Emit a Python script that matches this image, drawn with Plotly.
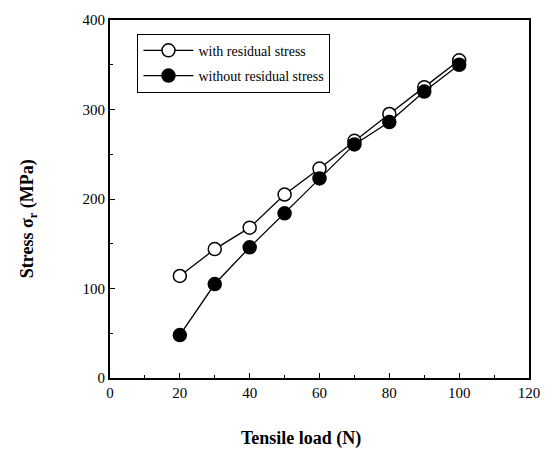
import plotly.graph_objects as go

load = [20, 30, 40, 50, 60, 70, 80, 90, 100]
with_residual = [114, 144, 168, 205, 234, 265, 295, 325, 355]
without_residual = [48, 105, 146, 184, 223, 261, 286, 320, 350]
x_ticks = [0, 20, 40, 60, 80, 100, 120]
y_ticks = [0, 100, 200, 300, 400]

W, H = 552, 456
L, R, T, B = 110, 15, 14, 78
font = "Liberation Serif"

fig = go.Figure()
fig.add_trace(go.Scatter(
    x=load, y=with_residual, mode="lines+markers", name="with residual stress",
    legendgroup="a",
    line=dict(color="black", width=1.3),
    marker=dict(symbol="circle", size=13, color="white", line=dict(color="black", width=1.5)),
))
fig.add_trace(go.Scatter(
    x=load, y=without_residual, mode="lines+markers", name="without residual stress",
    legendgroup="b",
    line=dict(color="black", width=1.3),
    marker=dict(symbol="circle", size=13, color="black", line=dict(color="black", width=1.5)),
))

axis_common = dict(
    showgrid=False, zeroline=False, showline=True, mirror=True,
    linecolor="black", linewidth=2, ticks="inside", ticklen=5, tickcolor="black",
    tickfont=dict(family=font, size=15, color="black"),
)
fig.update_xaxes(range=[0, 120], tickvals=x_ticks, ticktext=[str(v) for v in x_ticks],
                 minor=dict(dtick=10, ticks="inside", ticklen=3, tickcolor="black"),
                 **axis_common)
fig.update_yaxes(range=[0, 400], tickvals=y_ticks, ticktext=[str(v) for v in y_ticks],
                 minor=dict(dtick=50, ticks="inside", ticklen=3, tickcolor="black"),
                 **axis_common)

pw = W - L - R
ph = H - T - B
fig.add_annotation(
    text="<b>Tensile load (N)</b>", xref="paper", yref="paper",
    x=(305 - L) / pw, y=-(440 - (H - B)) / ph, showarrow=False,
    font=dict(family=font, size=18, color="black"), xanchor="center", yanchor="middle",
)
fig.add_annotation(
    text="<b>Stress σ<sub>r</sub> (MPa)</b>", xref="paper", yref="paper",
    x=-(L - 27) / pw, y=((H - B) - 216) / ph, showarrow=False, textangle=-90,
    font=dict(family=font, size=18, color="black"), xanchor="center", yanchor="middle",
)

fig.update_layout(
    width=W, height=H, margin=dict(l=L, r=R, t=T, b=B),
    paper_bgcolor="white", plot_bgcolor="white",
    showlegend=True,
    legend=dict(
        x=(138 - L) / pw, y=((H - B) - 28) / ph, xanchor="left", yanchor="top",
        bordercolor="black", borderwidth=1, bgcolor="white",
        font=dict(family=font, size=14, color="black"),
        traceorder="grouped", tracegroupgap=4, itemwidth=50,
    ),
)

fig.write_html("out.html")
